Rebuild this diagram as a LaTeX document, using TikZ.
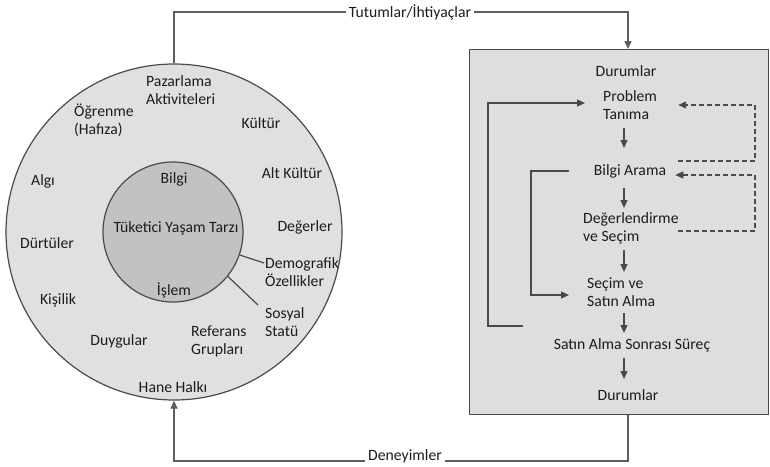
\documentclass[tikz,border=0pt]{standalone}
\usepackage{fontspec}
\setmainfont{Carlito}
\usetikzlibrary{arrows.meta}
\definecolor{ringfill}{HTML}{E0E0E0}
\definecolor{corefill}{HTML}{C2C2C2}
\definecolor{boxfill}{HTML}{DEDEDE}
\definecolor{edge}{HTML}{4A4A4A}
\definecolor{wire}{HTML}{5E5E5E}
\definecolor{ink}{HTML}{1C1C1C}
\begin{document}
\begin{tikzpicture}[x=1pt,y=-1pt,
  lbl/.style={font=\fontsize{15.7}{18}\selectfont, text=ink, inner sep=0pt},
  lleft/.style={lbl, align=left, anchor=west},
  arr/.style={draw=edge, line width=1.2pt, -{Triangle[length=8pt,width=7pt]}},
  wirearr/.style={draw=wire, line width=1.2pt, -{Triangle[length=8pt,width=7pt]}},
  plain/.style={draw=edge, line width=1.2pt},
  dsh/.style={arr, dash pattern=on 5pt off 3pt}]
\useasboundingbox (0,0) rectangle (770,466);

% --- lifestyle circles ---
\node (outer) [circle, draw=edge, line width=1.2pt, fill=ringfill, minimum size=336pt, inner sep=0pt] at (174,232) {};
\node (inner) [circle, draw=edge, line width=1.2pt, fill=corefill, minimum size=140pt, inner sep=0pt] at (173,232) {};

% --- decision process box ---
\node (box) [rectangle, draw=edge, line width=1.4pt, fill=boxfill, minimum width=299pt, minimum height=365pt, anchor=north west, inner sep=0pt] at (469,49) {};

% --- texts in the ring ---
\node (paz) [lleft] at (146,90) {Pazarlama\\Aktiviteleri};
\node (ogr) [lleft] at (74,120) {Öğrenme\\(Hafıza)};
\node (kul) [lbl] at (261,123) {Kültür};
\node (alt) [lbl] at (292,173) {Alt Kültür};
\node (alg) [lbl] at (43,181) {Algı};
\node (deg) [lbl] at (305,227) {Değerler};
\node (dur) [lbl] at (47,243) {Dürtüler};
\node (demo) [lleft] at (265,272) {Demografik\\Özellikler};
\node (kis) [lbl] at (58,300) {Kişilik};
\node (sos) [lleft] at (265,322) {Sosyal\\Statü};
\node (ref) [lleft] at (191,341) {Referans\\Grupları};
\node (duy) [lbl] at (119,341) {Duygular};
\node (hane) [lbl] at (173,387) {Hane Halkı};

% --- texts in the core ---
\node (bil) [lbl] at (174,179) {Bilgi};
\node (tyt) [lbl] at (176,228) {Tüketici Yaşam Tarzı};
\node (isl) [lbl] at (174,290) {İşlem};

% pointer lines from the core
\coordinate (demoend) at (264,263);
\coordinate (sosend) at (258,305);
\draw[plain] (inner.-19) -- (demoend);
\draw[plain] (inner.-39) -- (sosend);

% --- process steps ---
\node (dtop) [lbl] at (626,71) {Durumlar};
\node (pt) [lleft] at (603,105) {Problem\\Tanıma};
\node (ba) [lbl] at (630,171) {Bilgi Arama};
\node (ds) [lleft] at (583,228) {Değerlendirme\\ve Seçim};
\node (ss) [lleft] at (587,292) {Seçim ve\\Satın Alma};
\node (sas) [lbl] at (632,345) {Satın Alma Sonrası Süreç};
\node (dbot) [lbl] at (628,395) {Durumlar};

% step arrows
\coordinate (col) at (624,0);
\draw[arr] (col |- 0,128) -- (col |- 0,148);
\draw[arr] (col |- 0,188) -- (col |- 0,208);
\draw[arr] (col |- 0,250) -- (col |- 0,272);
\draw[arr] (col |- 0,313) -- (col |- 0,333);
\draw[arr] (col |- 0,358) -- (col |- 0,379);

% solid feedback loops
\coordinate (loopA) at (523,326);
\coordinate (loopAx) at (488,0);
\draw[arr] (loopA) -| (loopAx |- 0,103) -- ([xshift=-18pt]pt.west |- 0,103);
\coordinate (loopB) at (569,171);
\coordinate (loopBx) at (531,0);
\draw[arr] (loopB) -- (loopBx |- loopB) |- ([xshift=-18pt]ss.west |- 0,295);

% dashed feedback loops
\coordinate (dashx) at (755,0);
\draw[dsh] (678,161) -- (dashx |- 0,161) |- ([xshift=21pt]pt.east |- 0,105);
\draw[dsh] (678,231) -- (dashx |- 0,231) |- ([xshift=9pt]ba.east |- 0,175);

% --- outer connections ---
\coordinate (topy) at (0,12);
\coordinate (boty) at (0,461);
\coordinate (boxx) at (628,0);
\draw[wirearr] (outer.north) -- (outer.north |- topy) -- (boxx |- topy) -- (boxx |- box.north);
\draw[wirearr] (boxx |- box.south) -- (boxx |- boty) -- (outer.south |- boty) -- (outer.south);
\node (tut) [lbl, fill=white, inner xsep=3pt, inner ysep=1pt] at (410,12) {Tutumlar/İhtiyaçlar};
\node (den) [lbl, fill=white, inner xsep=3pt, inner ysep=1pt] at (405,456) {Deneyimler};
\end{tikzpicture}
\end{document}
